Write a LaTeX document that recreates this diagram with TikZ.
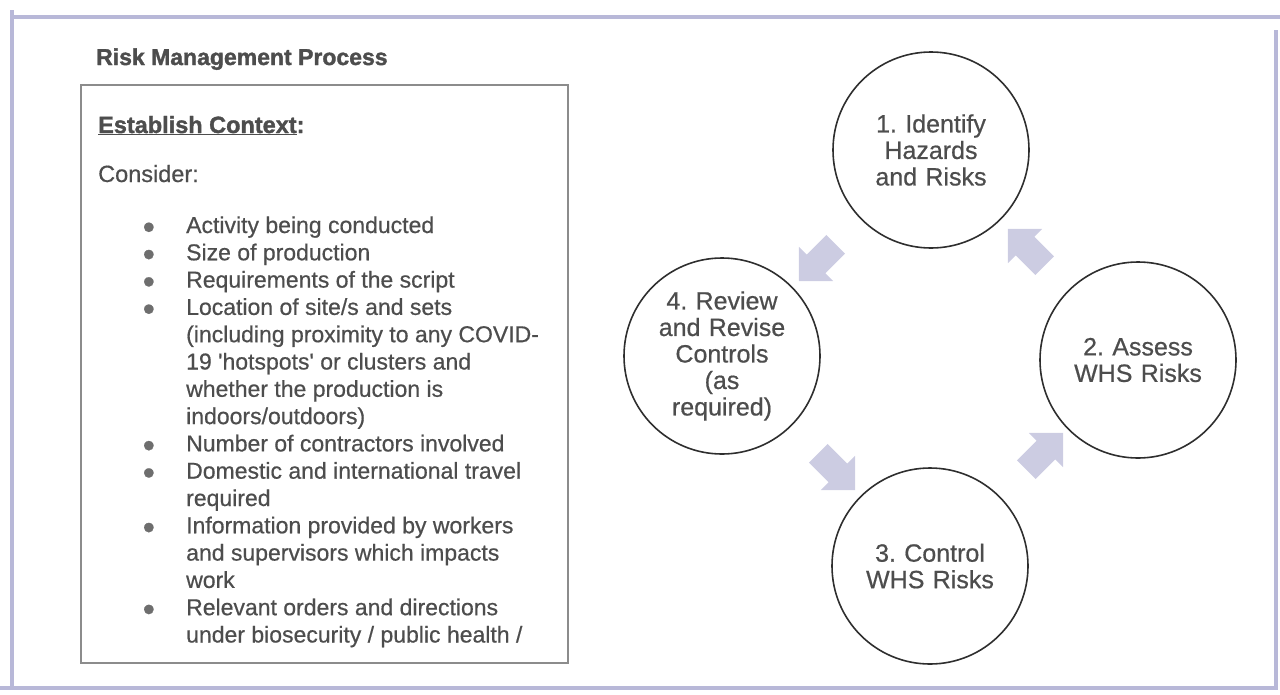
\documentclass[tikz,border=0pt]{standalone}
\usepackage{fontspec}
\setmainfont{Liberation Sans}[FakeBold=1.5]
\newfontfamily\scanfont{Liberation Sans}[FakeBold=0.6]
\usetikzlibrary{shapes.arrows}

\definecolor{inkgrey}{HTML}{4D4D4D}
\definecolor{dotgrey}{HTML}{6E6E6E}
\definecolor{framelav}{HTML}{B8B8D8}
\definecolor{boxgrey}{HTML}{8C8C8C}
\definecolor{ringdark}{HTML}{2E2E2E}
\definecolor{arrowlav}{HTML}{CCCCE2}

\newcommand{\itemdot}{\raisebox{-0.5pt}{\color{dotgrey}\fontsize{22}{24}\selectfont ●}}

\tikzset{
  stage/.style={circle, draw=ringdark, line width=1.6pt, minimum size=196pt,
    inner sep=0pt, text width=140pt, align=center, text=inkgrey,
    font=\scanfont\fontsize{25}{26.5}\selectfont},
  cycarrow/.style={single arrow, fill=arrowlav, draw=none, inner xsep=0pt,
    inner ysep=13pt, minimum height=52pt, single arrow head extend=11pt},
  frameline/.style={draw=framelav, line width=4pt},
  label/.style={inner sep=0pt, text=inkgrey, anchor=base west}
}

\begin{document}
\frenchspacing
\begin{tikzpicture}[x=1pt,y=-1pt]
\useasboundingbox (0,0) rectangle (1280,694);

% outer frame
\draw[frameline] (12,10) -- (12,688);
\draw[frameline] (10,17) -- (1280,17);
\draw[frameline] (1276,30) -- (1276,688);
\draw[frameline] (0,688) -- (1278,688);

% left panel
\node[label, font=\fontsize{23}{27}\selectfont\bfseries] (title) at (96,65) {Risk Management Process};
\draw[boxgrey, line width=1.5pt] (81,85) rectangle (568,663);
\node[label, font=\fontsize{23.5}{27}\selectfont\bfseries] (context) at (98,133) {\underline{Establish Context}:};
\node[label, font=\scanfont\fontsize{23.5}{27}\selectfont] (consider) at (98,182) {Consider:};
\node[label, font=\scanfont\fontsize{23}{27.3}\selectfont] (items) at (142,233) {%
\begin{tabular}[t]{@{}p{44pt}@{}l@{}}
\itemdot & Activity being conducted\\
\itemdot & Size of production\\
\itemdot & Requirements of the script\\
\itemdot & Location of site/s and sets\\
 & (including proximity to any COVID-\\
 & 19 \textquotesingle hotspots\textquotesingle{} or clusters and\\
 & whether the production is\\
 & indoors/outdoors)\\
\itemdot & Number of contractors involved\\
\itemdot & Domestic and international travel\\
 & required\\
\itemdot & Information provided by workers\\
 & and supervisors which impacts\\
 & work\\
\itemdot & Relevant orders and directions\\
 & under biosecurity / public health /
\end{tabular}};

% cycle
\node[stage] (identify) at (931,150) {1. Identify\\Hazards\\and Risks};
\node[stage] (assess) at (1138,360) {2. Assess\\WHS Risks};
\node[stage] (control) at (930,566) {3. Control\\WHS Risks};
\node[stage] (review) at (722,356) {4. Review\\and Revise\\Controls\\(as\\required)};

\node[cycarrow, rotate=225] (a14) at (822,258) {};
\node[cycarrow, rotate=135] (a21) at (1031,252) {};
\node[cycarrow, rotate=45] (a32) at (1040,456) {};
\node[cycarrow, rotate=-45] (a43) at (832,467) {};

\end{tikzpicture}
\end{document}
